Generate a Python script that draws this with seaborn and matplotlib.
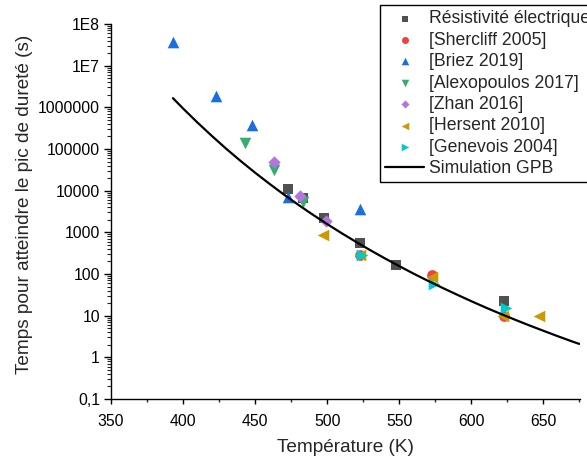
import matplotlib
matplotlib.use("Agg")
import matplotlib.pyplot as plt
import matplotlib.ticker as mticker
import seaborn as sns
import numpy as np

sns.set_style("ticks")
plt.rcParams['font.family'] = ['Liberation Sans', 'DejaVu Sans']

# ---- data ----
res_T = [473, 483, 498, 523, 548, 623]
res_t = [10700, 6500, 2150, 560, 160, 23]

sher_T = [523, 573, 623]
sher_t = [280, 96, 10]

briez_T = [393, 423, 448, 473, 523]
briez_t = [3.7e7, 1.85e6, 3.7e5, 6900, 3700]

alex_T = [443, 463, 483]
alex_t = [1.4e5, 3.1e4, 5200]

zhan_T = [463, 481, 499]
zhan_t = [4.8e4, 7600, 1900]

hers_T = [497, 523, 573, 622, 647]
hers_t = [850, 280, 85, 10, 10]

gene_T = [524, 574, 624]
gene_t = [285, 57, 15]

sim_T = [393, 400, 410, 420, 430, 440, 450, 460, 470, 480, 490, 500, 510, 520,
         530, 540, 550, 560, 570, 580, 590, 600, 610, 620, 630, 640, 650, 660, 670, 675]
sim_t = [1.66e6, 9.4e5, 4.32e5, 2.06e5, 1.01e5, 5.15e4, 2.70e4, 1.46e4, 8070, 4580,
         2660, 1580, 957, 592, 372, 238, 155, 102, 68.5, 46.6, 32.1, 22.3, 15.7, 11.2,
         8.1, 5.9, 4.35, 3.22, 2.41, 2.10]

yticks_v = [0.1, 1, 10, 100, 1000, 10000, 100000, 1000000, 1e7, 1e8]
yticks_l = ['0,1', '1', '10', '100', '1000', '10000', '100000', '1000000', '1E7', '1E8']
xticks_v = [350, 400, 450, 500, 550, 600, 650]

series = [
    ("Résistivité électrique", res_T, res_t, 's', '#515151'),
    ("[Shercliff 2005]", sher_T, sher_t, 'o', '#F14040'),
    ("[Briez 2019]", briez_T, briez_t, '^', '#1A6FDF'),
    ("[Alexopoulos 2017]", alex_T, alex_t, 'v', '#37AD6B'),
    ("[Zhan 2016]", zhan_T, zhan_t, 'D', '#B177DE'),
    ("[Hersent 2010]", hers_T, hers_t, '<', '#CC9900'),
    ("[Genevois 2004]", gene_T, gene_t, '>', '#00CBCC'),
]
sizes = {'s': 60, 'o': 60, '^': 70, 'v': 70, 'D': 40, '<': 70, '>': 70}

fig = plt.figure(figsize=(5.87, 4.63), dpi=100)
ax = fig.add_axes([111/587, 1 - 399/463, 469/587, 375/463])

for lab, T, t, m, c in series:
    sns.scatterplot(x=T, y=t, marker=m, color=c, s=sizes[m], linewidth=0,
                    label=lab, ax=ax, zorder=3)
sns.lineplot(x=sim_T, y=sim_t, color='black', linewidth=1.6,
             label="Simulation GPB", ax=ax, zorder=4, sort=False)

ax.set_yscale('log')
ax.set_xlim(350, 675.5)
ax.set_ylim(0.1, 1e8)
ax.yaxis.set_major_locator(mticker.FixedLocator(yticks_v))
ax.yaxis.set_major_formatter(mticker.FixedFormatter(yticks_l))
ax.yaxis.set_minor_locator(mticker.LogLocator(base=10, subs=np.arange(2, 10), numticks=100))
ax.yaxis.set_minor_formatter(mticker.NullFormatter())
ax.xaxis.set_major_locator(mticker.FixedLocator(xticks_v))
ax.xaxis.set_minor_locator(mticker.MultipleLocator(25))

for s in ['top', 'right']:
    ax.spines[s].set_visible(False)
for s in ['left', 'bottom']:
    ax.spines[s].set_color('black')
    ax.spines[s].set_linewidth(1.0)

ax.tick_params(axis='x', which='major', direction='out', length=3.5, width=1, pad=7, labelsize=11.3, colors='black')
ax.tick_params(axis='x', which='minor', direction='out', length=2.5, width=1)
ax.tick_params(axis='y', which='major', direction='out', length=5, width=1, pad=3, labelsize=11.3, colors='black')
ax.tick_params(axis='y', which='minor', direction='out', length=2.8, width=0.8)

ax.set_xlabel("Température (K)", fontsize=13.7)
ax.set_ylabel("Temps pour atteindre le pic de dureté (s)", fontsize=13.7)
ax.xaxis.set_label_coords(0.5, -(447 - 399) / 375)
ax.xaxis.label.set_verticalalignment('center')
ax.yaxis.set_label_coords((25 - 111) / 469, 0.52)
ax.yaxis.label.set_verticalalignment('center')

leg = ax.legend(loc='upper left', bbox_to_anchor=(380/587, 1 - 5/463),
                bbox_transform=fig.transFigure, frameon=True, fancybox=False,
                edgecolor='black', fontsize=12.7, markerscale=0.65,
                handlelength=2.2, handletextpad=0.25, borderpad=0.3,
                labelspacing=0.25, borderaxespad=0)
leg.get_frame().set_linewidth(1.0)
leg.get_frame().set_alpha(1)

fig.savefig("out.png", dpi=100)
